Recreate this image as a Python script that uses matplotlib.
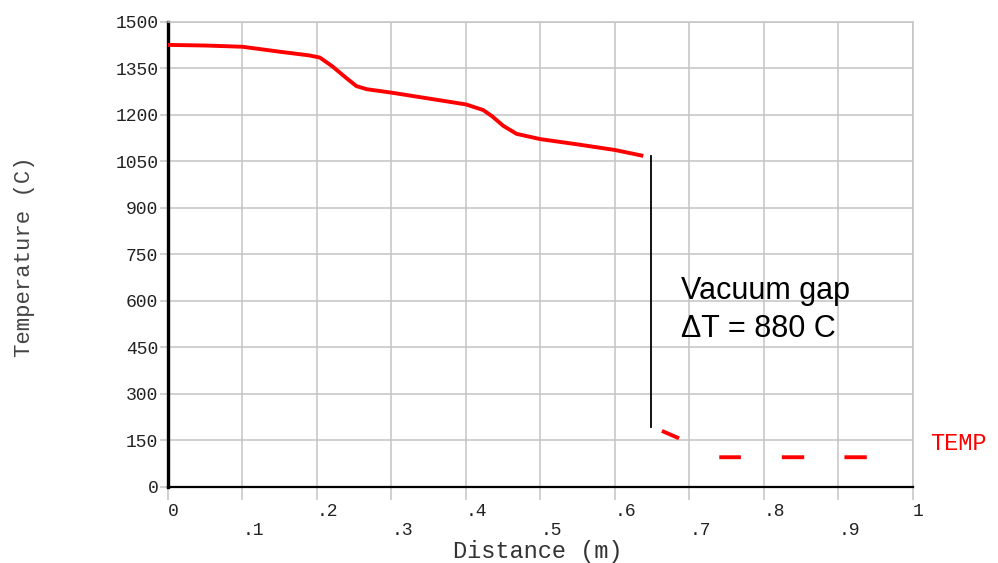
import numpy as np
import matplotlib
matplotlib.use("Agg")
import matplotlib.pyplot as plt

# main temperature profile (solid part, before the vacuum gap)
dist = [0.0, 0.05, 0.10, 0.15, 0.19, 0.204, 0.22, 0.24, 0.253, 0.267, 0.30,
        0.35, 0.40, 0.423, 0.435, 0.45, 0.468, 0.50, 0.55, 0.60, 0.638]
temp = [1426, 1424, 1420, 1404, 1392, 1385, 1358, 1318, 1293, 1283, 1272,
        1253, 1234, 1216, 1196, 1165, 1139, 1122, 1105, 1087, 1068]

# cold side, drawn in short pieces
cold_dist = [0.663, 0.686, np.nan, 0.740, 0.769, np.nan, 0.824, 0.854, np.nan, 0.908, 0.938]
cold_temp = [181, 157, np.nan, 96, 96, np.nan, 96, 96, np.nan, 96, 96]

gap_x = 0.649
gap_top = 1068
gap_bottom = 195

xticks = np.arange(0, 1.01, 0.1)
xlabels = ["0", ".1", ".2", ".3", ".4", ".5", ".6", ".7", ".8", ".9", "1"]
yticks = np.arange(0, 1501, 150)

mono = "Liberation Mono"

fig = plt.figure(figsize=(9.98, 5.63), dpi=100)
ax = fig.add_axes([0.1683, 0.135, 0.7465, 0.826])

ax.plot(dist, temp, color="red", lw=2.8, solid_capstyle="butt",
        solid_joinstyle="round", zorder=3)
ax.plot(cold_dist, cold_temp, color="red", lw=2.8, solid_capstyle="butt", zorder=3)
ax.plot([gap_x, gap_x], [gap_top, gap_bottom], color="black", lw=1.3, zorder=3)

ax.set_xlim(0, 1)
ax.set_ylim(0, 1500)
ax.set_xticks(xticks)
ax.set_xticklabels(xlabels)
ax.set_yticks(yticks)
ax.grid(True, color="#c4c4c4", lw=1.1)
ax.set_axisbelow(True)

ax.tick_params(axis="x", length=9.5, width=1.1, color="#c4c4c4", labelsize=13, pad=2)
ax.tick_params(axis="y", length=6, width=1.1, color="#c4c4c4", labelsize=13, pad=1)
for lab in ax.get_xticklabels() + ax.get_yticklabels():
    lab.set_family(mono)
    lab.set_color("#222222")
for lab in ax.get_xticklabels():
    lab.set_ha("left")
for i, tick in enumerate(ax.xaxis.get_major_ticks()):
    if i % 2 == 1:
        tick.set_pad(16)

ax.spines["left"].set_linewidth(2.4)
ax.spines["left"].set_color("black")
ax.spines["bottom"].set_linewidth(1.6)
ax.spines["bottom"].set_color("black")
for s in ["top", "right"]:
    ax.spines[s].set_color("#c4c4c4")
    ax.spines[s].set_linewidth(1.1)

ax.set_xlabel("Distance (m)", family=mono, fontsize=17, color="#333333")
ax.xaxis.set_label_coords(0.497, -0.113)
ax.set_ylabel("Temperature (C)", family=mono, fontsize=16, color="#444444")
ax.yaxis.set_label_coords(-0.178, 0.495)

ax.text(0.689, 680, "Vacuum gap\n\u0394T = 880 C", family="Liberation Sans",
        fontsize=22, va="top", ha="left", linespacing=1.35, color="black")
ax.text(1.023, 0.0946, "TEMP", transform=ax.transAxes, family=mono,
        fontsize=17, color="red", va="center", ha="left")

fig.savefig("out.png", dpi=100)
